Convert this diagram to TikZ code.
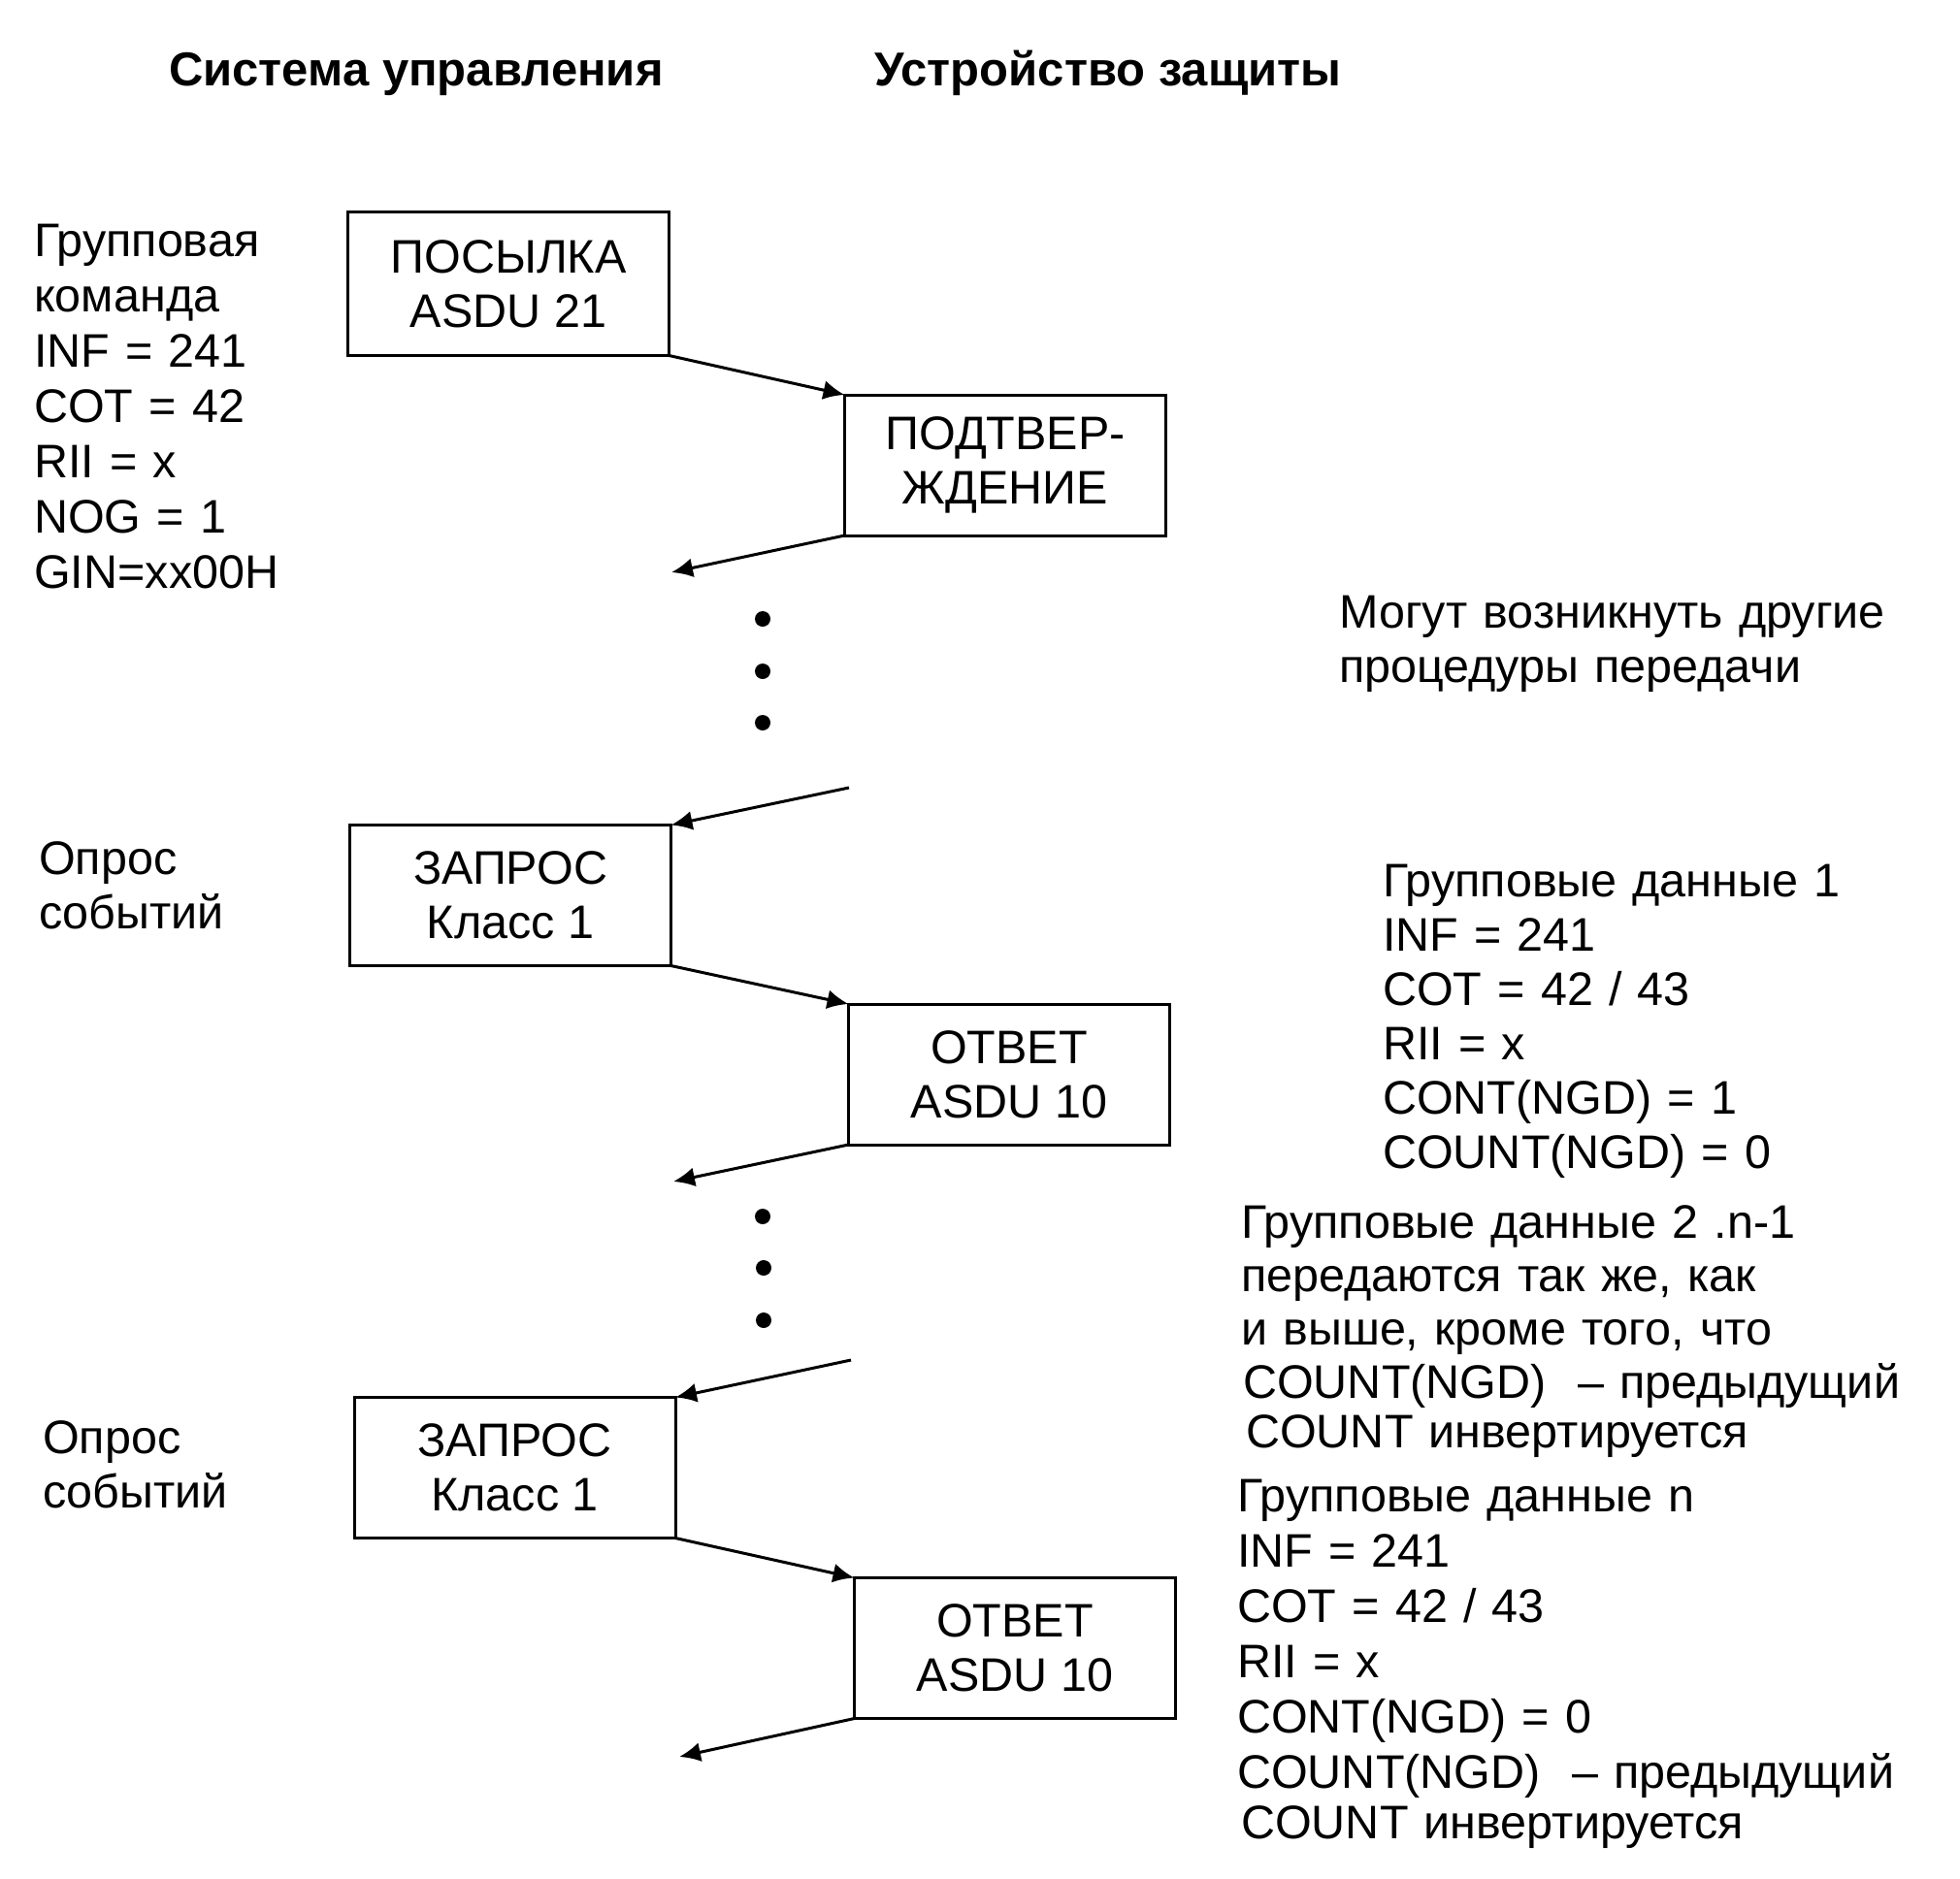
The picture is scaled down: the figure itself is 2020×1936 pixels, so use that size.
\documentclass[tikz,border=0pt]{standalone}
\usepackage{fontspec}
\setmainfont{Liberation Sans}
\usetikzlibrary{positioning}
\usetikzlibrary{arrows.meta}

\begin{document}
\begin{tikzpicture}[
    x=1pt,y=-1pt,
    font=\fontsize{48.5}{56}\selectfont,
    msgbox/.style={draw,line width=3pt,outer sep=0pt,minimum width=331pt,minimum height=145pt,inner sep=0pt,align=center},
    note/.style={anchor=base west,inner sep=0pt,text width=720pt,align=left},
    head/.style={anchor=base west,inner sep=0pt,font=\fontsize{49}{56}\selectfont\bfseries},
    dot/.style={circle,fill,inner sep=0pt,minimum size=16pt},
    msg/.style={line width=3pt,-{Latex[length=22pt,width=20pt]}}
    ]

    \useasboundingbox (0,0) rectangle (2020,1936);

    % headings
    \node[head] (sys) at (174,88) {Система управления};
    \node[head] (dev) at (901,88) {Устройство защиты};

    % message boxes
    \node[msgbox,minimum height=148pt,anchor=north west] (send) at (358.5,218.5) {ПОСЫЛКА\\ASDU 21};
    \node[msgbox,below right=40.5pt and 181pt of send] (ack) {ПОДТВЕР-\\ЖДЕНИЕ};
    \node[msgbox,below=484pt of send,xshift=2pt] (req1) {ЗАПРОС\\Класс 1};
    \node[msgbox,below right=39.5pt and 183pt of req1] (resp1) {ОТВЕТ\\ASDU 10};
    \node[msgbox,below=445pt of req1,xshift=4.5pt] (req2) {ЗАПРОС\\Класс 1};
    \node[msgbox,below right=41pt and 184.5pt of req2] (resp2) {ОТВЕТ\\ASDU 10};

    % loose ends of the messages
    \coordinate (back1) at (692,590);
    \coordinate (poll1) at (875,812);
    \coordinate (back2) at (694,1218);
    \coordinate (poll2) at (877,1402);
    \coordinate (back3) at (700,1811);

    % dots
    \node[dot] (d1) at (786,638) {};
    \node[dot] (d2) at (786,692) {};
    \node[dot] (d3) at (786,745) {};
    \node[dot] (d4) at (786,1254) {};
    \node[dot] (d5) at (787,1307) {};
    \node[dot] (d6) at (787,1361) {};

    \path (send.south east) edge[msg] (ack.north west)
    (ack.south west) edge[msg] (back1)
    (poll1) edge[msg] (req1.north east)
    (req1.south east) edge[msg] (resp1.north west)
    (resp1.south west) edge[msg] (back2)
    (poll2) edge[msg] (req2.north east)
    (req2.south east) edge[msg] (resp2.north west)
    (resp2.south west) edge[msg] (back3)
    ;

    % side notes
    \node[note,font=\fontsize{48.5}{57}\selectfont] (cmd) at (35,264) {Групповая\\команда\\INF = 241\\COT = 42\\RII = x\\NOG = 1\\GIN=xx00H};
    \node[note] (poll1txt) at (40,901) {Опрос\\событий};
    \node[note] (poll2txt) at (44,1498) {Опрос\\событий};
    \node[note] (other) at (1380,647) {Могут возникнуть другие\\процедуры передачи};
    \node[note] (grp1) at (1425,924) {Групповые данные 1\\INF = 241\\COT = 42 / 43\\RII = x\\CONT(NGD) = 1\\COUNT(NGD) = 0};
    \node[note,font=\fontsize{48.5}{55}\selectfont] (grpmid) at (1279,1276) {Групповые данные 2 .n-1\\передаются так же, как\\и выше, кроме того, что\\\hspace*{2pt}COUNT(NGD) \ – предыдущий\\[-4pt]\hspace*{5pt}COUNT инвертируется};
    \node[note,font=\fontsize{48.5}{57}\selectfont] (grpn) at (1275,1558) {Групповые данные n\\INF = 241\\COT = 42 / 43\\RII = x\\CONT(NGD) = 0\\COUNT(NGD) \ – предыдущий\\[-5pt]\hspace*{4pt}COUNT инвертируется};

\end{tikzpicture}
\end{document}
